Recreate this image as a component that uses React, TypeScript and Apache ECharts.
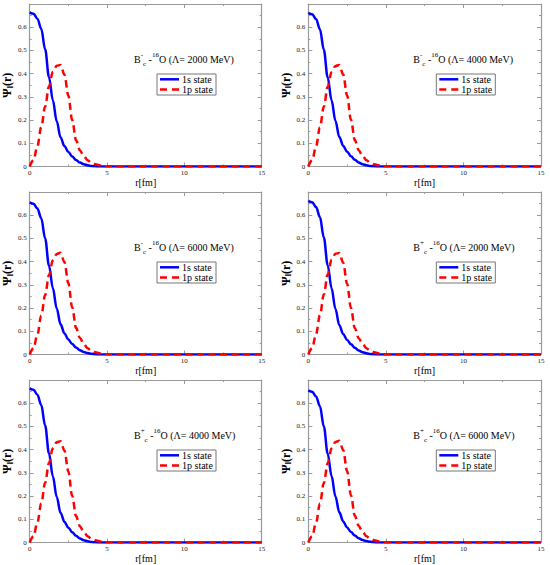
import React, { useEffect, useRef } from "react";
import * as echarts from "echarts";

// radial grid (fm)
const R = [0, 0.25, 0.5, 0.75, 1, 1.25, 1.5, 1.75, 2, 2.25, 2.5, 2.75, 3, 3.25, 3.5, 3.75, 4, 4.25, 4.5, 4.75, 5, 6, 8, 10, 12, 15];

// 1s state wave functions
const S1_BM_2000 = [0.664, 0.658, 0.637, 0.593, 0.505, 0.385, 0.285, 0.195, 0.125, 0.088, 0.063, 0.043, 0.028, 0.017, 0.010, 0.005, 0.002, 0.001, 0, 0, 0, 0, 0, 0, 0, 0];
const S1_BM_4000 = [0.662, 0.656, 0.635, 0.591, 0.503, 0.384, 0.285, 0.196, 0.127, 0.089, 0.064, 0.044, 0.029, 0.017, 0.010, 0.005, 0.002, 0.001, 0, 0, 0, 0, 0, 0, 0, 0];
const S1_BM_6000 = [0.655, 0.649, 0.629, 0.587, 0.500, 0.383, 0.286, 0.198, 0.130, 0.091, 0.065, 0.045, 0.030, 0.018, 0.011, 0.006, 0.003, 0.001, 0, 0, 0, 0, 0, 0, 0, 0];
const S1_BP_2000 = [0.662, 0.656, 0.635, 0.592, 0.504, 0.385, 0.285, 0.196, 0.126, 0.088, 0.063, 0.044, 0.029, 0.017, 0.010, 0.005, 0.002, 0.001, 0, 0, 0, 0, 0, 0, 0, 0];
const S1_BP_4000 = [0.664, 0.658, 0.636, 0.592, 0.504, 0.384, 0.285, 0.196, 0.127, 0.089, 0.064, 0.044, 0.029, 0.017, 0.010, 0.005, 0.002, 0.001, 0, 0, 0, 0, 0, 0, 0, 0];
const S1_BP_6000 = [0.655, 0.649, 0.629, 0.587, 0.500, 0.383, 0.286, 0.198, 0.130, 0.091, 0.065, 0.045, 0.030, 0.018, 0.011, 0.006, 0.003, 0.001, 0, 0, 0, 0, 0, 0, 0, 0];

// 1p state wave functions
const P1_BM_2000 = [0, 0.028, 0.088, 0.170, 0.258, 0.345, 0.408, 0.434, 0.437, 0.395, 0.305, 0.200, 0.113, 0.070, 0.045, 0.027, 0.016, 0.010, 0.005, 0.002, 0.001, 0, 0, 0, 0, 0];
const P1_BM_4000 = [0, 0.028, 0.087, 0.169, 0.257, 0.344, 0.407, 0.433, 0.437, 0.396, 0.306, 0.201, 0.114, 0.070, 0.045, 0.027, 0.016, 0.010, 0.005, 0.002, 0.001, 0, 0, 0, 0, 0];
const P1_BM_6000 = [0, 0.027, 0.086, 0.168, 0.256, 0.342, 0.406, 0.433, 0.438, 0.398, 0.308, 0.203, 0.115, 0.071, 0.045, 0.027, 0.016, 0.010, 0.005, 0.002, 0.001, 0, 0, 0, 0, 0];
const P1_BP_2000 = [0, 0.028, 0.088, 0.170, 0.258, 0.345, 0.408, 0.434, 0.437, 0.395, 0.305, 0.200, 0.113, 0.070, 0.045, 0.027, 0.016, 0.010, 0.005, 0.002, 0.001, 0, 0, 0, 0, 0];
const P1_BP_4000 = [0, 0.027, 0.087, 0.169, 0.257, 0.343, 0.406, 0.432, 0.436, 0.396, 0.306, 0.201, 0.114, 0.070, 0.045, 0.027, 0.016, 0.010, 0.005, 0.002, 0.001, 0, 0, 0, 0, 0];
const P1_BP_6000 = [0, 0.027, 0.086, 0.168, 0.256, 0.342, 0.406, 0.433, 0.438, 0.398, 0.308, 0.203, 0.115, 0.071, 0.045, 0.027, 0.016, 0.010, 0.005, 0.002, 0.001, 0, 0, 0, 0, 0];

const CHARGES = ["-", "-", "-", "+", "+", "+"];
const LAMBDAS = [2000, 4000, 6000, 2000, 4000, 6000];
const S1_SETS = [S1_BM_2000, S1_BM_4000, S1_BM_6000, S1_BP_2000, S1_BP_4000, S1_BP_6000];
const P1_SETS = [P1_BM_2000, P1_BM_4000, P1_BM_6000, P1_BP_2000, P1_BP_4000, P1_BP_6000];
const SERIES_NAMES = ["1s state", "1p state"];

const X_MIN = 0, X_MAX = 15, X_STEP = 5;
const Y_MIN = 0, Y_MAX = 0.7, Y_STEP = 0.1;

const FONT = "Liberation Serif";
const AXIS_GRAY = "#999999";
const BLUE = "#0000ff";
const RED = "#ff0000";

const COL_LEFT = [29, 308.3];
const ROW_TOP = [4, 192, 380];
const GW = 232.7;
const GH = 162.5;

function pairs(ys: number[]) {
  return R.map((r, i) => [r, ys[i]]);
}

export default function App() {
  const ref = useRef<HTMLDivElement>(null);

  useEffect(() => {
    if (!ref.current) return;
    const chart = echarts.init(ref.current, undefined, { renderer: "svg" });

    const grids: any[] = [];
    const xAxes: any[] = [];
    const yAxes: any[] = [];
    const series: any[] = [];
    const graphic: any[] = [];

    const tickCommon = {
      axisLine: { show: true, onZero: false, lineStyle: { color: AXIS_GRAY, width: 1.2 } },
      axisTick: { show: true, inside: true, length: 4, lineStyle: { color: AXIS_GRAY, width: 1 } },
      minorTick: { show: true, splitNumber: 2, length: 2, lineStyle: { color: AXIS_GRAY, width: 1 } },
      splitLine: { show: false },
      minorSplitLine: { show: false },
    };

    for (let p = 0; p < 6; p++) {
      const col = p % 2;
      const row = Math.floor(p / 2);
      const gl = COL_LEFT[col];
      const gt = ROW_TOP[row];
      grids.push({ left: gl, top: gt, width: GW, height: GH, containLabel: false });

      xAxes.push({
        type: "value", gridIndex: p, position: "bottom", min: X_MIN, max: X_MAX, interval: X_STEP,
        ...tickCommon,
        axisLabel: { show: true, fontSize: 7, margin: 3, color: "#222", fontFamily: FONT },
        name: "r[fm]", nameLocation: "middle", nameGap: 8,
        nameTextStyle: { fontSize: 10, fontFamily: FONT, color: "#000" },
      });
      xAxes.push({
        type: "value", gridIndex: p, position: "top", min: X_MIN, max: X_MAX, interval: X_STEP,
        ...tickCommon,
        axisLabel: { show: false },
      });
      yAxes.push({
        type: "value", gridIndex: p, position: "left", min: Y_MIN, max: Y_MAX, interval: Y_STEP,
        ...tickCommon,
        axisLabel: {
          show: true, fontSize: 7, margin: 3, color: "#222", fontFamily: FONT,
          formatter: (v: number) => (v > Y_MAX - Y_STEP / 2 ? "" : String(Number(v.toFixed(2)))),
        },
        name: "{a|Ψ}{b|l}{a|(r)}", nameLocation: "middle", nameGap: 15, nameRotate: 90,
        nameTextStyle: {
          color: "#000",
          rich: {
            a: { fontSize: 12, fontWeight: "bold", fontFamily: FONT, lineHeight: 14, color: "#000" },
            b: { fontSize: 8, fontWeight: "bold", fontFamily: FONT, lineHeight: 8, verticalAlign: "bottom", color: "#000" },
          },
        },
      });
      yAxes.push({
        type: "value", gridIndex: p, position: "right", min: Y_MIN, max: Y_MAX, interval: Y_STEP,
        ...tickCommon,
        axisLabel: { show: false },
      });

      series.push({
        type: "line", name: SERIES_NAMES[0], xAxisIndex: 2 * p, yAxisIndex: 2 * p,
        data: pairs(S1_SETS[p]), showSymbol: false, symbol: "none", smooth: 0.35, smoothMonotone: "x",
        lineStyle: { color: BLUE, width: 2.5 }, z: 2,
      });
      series.push({
        type: "line", name: SERIES_NAMES[1], xAxisIndex: 2 * p, yAxisIndex: 2 * p,
        data: pairs(P1_SETS[p]), showSymbol: false, symbol: "none", smooth: 0.35, smoothMonotone: "x",
        lineStyle: { color: RED, width: 2.5, type: [7, 4.5] }, z: 3,
      });

      // annotation
      graphic.push({
        type: "text",
        x: gl + 105,
        y: gt + 55,
        style: {
          text: `{n|B}{sup|${CHARGES[p]}}{sub|c}{n| -}{sup|16}{n|O (Λ= ${LAMBDAS[p]} MeV)}`,
          verticalAlign: "middle",
          align: "left",
          fill: "#000",
          rich: {
            n: { fontSize: 10, fontFamily: FONT, lineHeight: 16, fill: "#000" },
            sup: { fontSize: 7, fontFamily: FONT, lineHeight: 8, verticalAlign: "top", fill: "#000" },
            sub: { fontSize: 7, fontFamily: FONT, lineHeight: 8, verticalAlign: "bottom", fill: "#000" },
          },
        },
      });
      // legend box
      graphic.push({
        type: "rect",
        shape: { x: gl + 128, y: gt + 70, width: 59, height: 21 },
        style: { fill: "#ffffff", stroke: "#777777", lineWidth: 1 },
      });
      graphic.push({
        type: "line",
        shape: { x1: gl + 131, y1: gt + 75.3, x2: gl + 150, y2: gt + 75.3 },
        style: { stroke: BLUE, lineWidth: 2.5 },
      });
      graphic.push({
        type: "line",
        shape: { x1: gl + 131, y1: gt + 85.5, x2: gl + 150, y2: gt + 85.5 },
        style: { stroke: RED, lineWidth: 2.5, lineDash: [7, 5] },
      });
      graphic.push({
        type: "text", x: gl + 153, y: gt + 75.3,
        style: { text: SERIES_NAMES[0], fontSize: 10, lineHeight: 10, fontFamily: FONT, fill: "#000", verticalAlign: "middle" },
      });
      graphic.push({
        type: "text", x: gl + 153, y: gt + 85.5,
        style: { text: SERIES_NAMES[1], fontSize: 10, lineHeight: 10, fontFamily: FONT, fill: "#000", verticalAlign: "middle" },
      });
    }

    chart.setOption({
      animation: false,
      backgroundColor: "#ffffff",
      grid: grids,
      xAxis: xAxes,
      yAxis: yAxes,
      series,
      graphic,
    });

    return () => {
      chart.dispose();
    };
  }, []);

  return (
    <div
      ref={ref}
      style={{ position: "fixed", left: 0, top: 0, width: 550, height: 565 }}
    />
  );
}
